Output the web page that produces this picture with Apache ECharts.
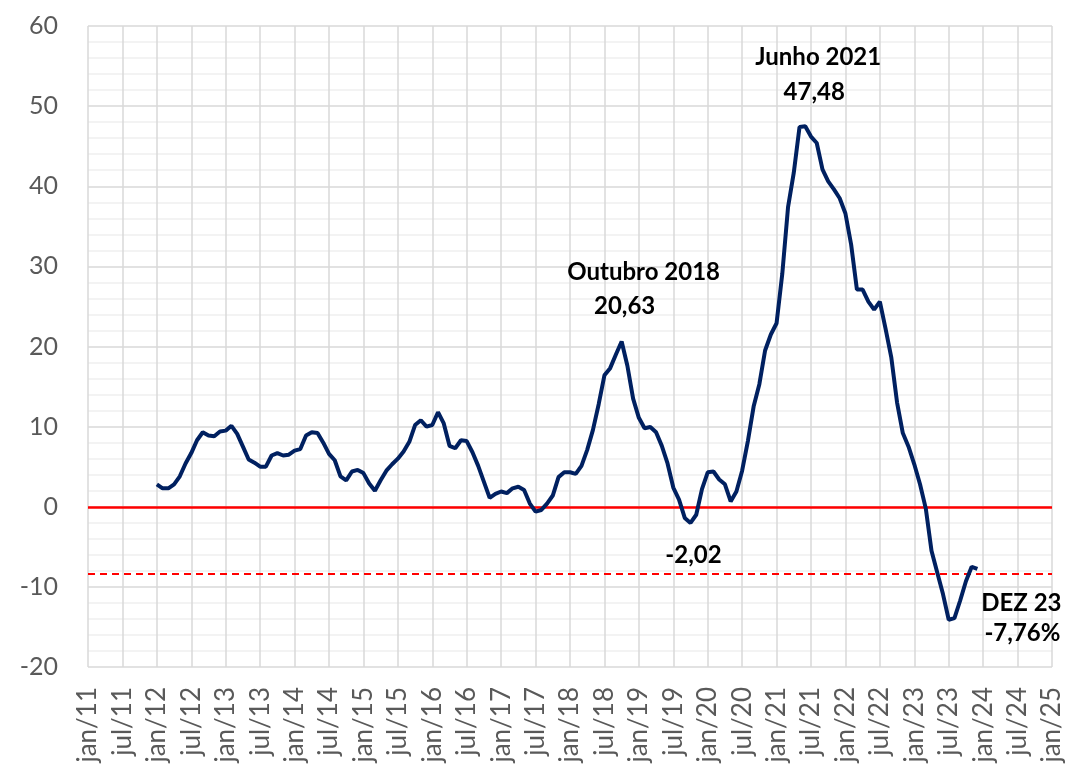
<!DOCTYPE html>
<html>
<head>
<meta charset="utf-8">
<script src="https://cdn.jsdelivr.net/npm/echarts@6/dist/echarts.min.js"></script>
<style>
html,body{margin:0;padding:0;background:#fff;}
#chart{width:1079px;height:773px;}
</style>
</head>
<body>
<div id="chart"></div>
<script>
// Month abbreviations (pt-BR) and axis range
const monthNames = ["jan","fev","mar","abr","mai","jun","jul","ago","set","out","nov","dez"];
const firstYear = 2011;   // axis starts jan/11
const lastYear = 2025;    // axis ends jan/25
// Series starts jan/12 and ends dez/23
const seriesStartYear = 2012;
const values = [
  2.8, 2.3, 2.3, 2.8, 3.8, 5.4, 6.7, 8.3, 9.3, 8.9, 8.8, 9.4,          // 2012
  9.5, 10.1, 9.1, 7.5, 5.9, 5.5, 5.0, 5.0, 6.4, 6.7, 6.4, 6.5,         // 2013
  7.0, 7.2, 8.9, 9.3, 9.2, 8.0, 6.6, 5.8, 3.8, 3.3, 4.4, 4.6,          // 2014
  4.2, 2.9, 2.0, 3.3, 4.5, 5.3, 6.0, 6.9, 8.1, 10.2, 10.8, 10.0,       // 2015
  10.2, 11.8, 10.4, 7.6, 7.3, 8.3, 8.2, 6.8, 5.1, 3.1, 1.1, 1.6,       // 2016
  1.9, 1.7, 2.3, 2.5, 2.1, 0.4, -0.6, -0.4, 0.4, 1.4, 3.7, 4.3,        // 2017
  4.3, 4.1, 5.1, 7.1, 9.6, 12.8, 16.4, 17.3, 19.0, 20.63, 17.6, 13.5,  // 2018
  11.1, 9.8, 9.95, 9.3, 7.6, 5.4, 2.4, 0.9, -1.4, -2.02, -1.0, 2.2,    // 2019
  4.3, 4.4, 3.4, 2.8, 0.66, 1.9, 4.5, 8.2, 12.5, 15.3, 19.5, 21.5,     // 2020
  22.9, 29.1, 37.4, 41.7, 47.4, 47.48, 46.2, 45.4, 42.1, 40.6, 39.6, 38.5, // 2021
  36.6, 32.7, 27.1, 27.1, 25.6, 24.6, 25.6, 22.2, 18.6, 13.0, 9.2, 7.5,   // 2022
  5.3, 2.8, -0.2, -5.5, -8.2, -10.9, -14.1, -13.9, -11.7, -9.3, -7.5, -7.76 // 2023
];
const zeroLine = 0;
const dashedLevel = -8.3;
const yTicks = {min: -20, max: 60, interval: 10};
const annotations = [
  {cat: "jun/21", value: 47.48, text: "Junho 2021", dx: 13, dy: -69},
  {cat: "jun/21", value: 47.48, text: "47,48", dx: 9, dy: -34},
  {cat: "out/18", value: 20.63, text: "Outubro 2018", dx: 22, dy: -69},
  {cat: "out/18", value: 20.63, text: "20,63", dx: 3, dy: -35},
  {cat: "out/19", value: -2.02, text: "-2,02", dx: 3, dy: 32},
  {cat: "dez/23", value: -7.76, text: "DEZ 23", dx: 44, dy: 34},
  {cat: "dez/23", value: -7.76, text: "-7,76%", dx: 45, dy: 64}
];

// Build categories
const categories = [];
for (let y = firstYear; y <= lastYear; y++) {
  for (let m = 0; m < 12; m++) {
    if (y === lastYear && m > 0) break;
    categories.push(monthNames[m] + "/" + String(y).slice(2));
  }
}
const offset = (seriesStartYear - firstYear) * 12;
const seriesData = categories.map((c, i) => {
  const k = i - offset;
  return (k >= 0 && k < values.length) ? values[k] : null;
});

const chart = echarts.init(document.getElementById('chart'), null, {renderer: 'canvas'});
chart.setOption({
  animation: false,
  backgroundColor: '#ffffff',
  grid: {left: 88, right: 27, top: 26, bottom: 106, containLabel: false},
  xAxis: {
    type: 'category',
    data: categories,
    boundaryGap: false,
    axisLine: {show: false},
    axisTick: {show: false},
    axisLabel: {
      interval: 5,
      rotate: 90,
      margin: 20,
      fontFamily: 'Lato',
      fontSize: 26,
      color: '#595959'
    },
    splitLine: {show: true, interval: 5, lineStyle: {color: '#d9d9d9', width: 1.5}}
  },
  yAxis: {
    type: 'value',
    min: yTicks.min,
    max: yTicks.max,
    interval: yTicks.interval,
    axisLine: {show: false},
    axisTick: {show: false},
    axisLabel: {fontFamily: 'Lato', fontSize: 25, color: '#595959', margin: 30},
    splitLine: {show: true, lineStyle: {color: '#d9d9d9', width: 1.5}},
    minorTick: {show: false, splitNumber: 5},
    minorSplitLine: {show: true, lineStyle: {color: '#f0f0f0', width: 1.5}}
  },
  series: [{
    type: 'line',
    data: seriesData,
    showSymbol: false,
    connectNulls: false,
    lineStyle: {color: '#002060', width: 4},
    itemStyle: {color: '#002060'},
    z: 5,
    markLine: {
      silent: true,
      symbol: 'none',
      label: {show: false},
      data: [
        {yAxis: zeroLine, lineStyle: {color: '#ff0000', width: 2.5, type: 'solid'}},
        {yAxis: dashedLevel, lineStyle: {color: '#ff0000', width: 2, type: [7, 5]}}
      ]
    },
    markPoint: {
      silent: true,
      symbol: 'circle',
      symbolSize: 0,
      itemStyle: {color: 'rgba(0,0,0,0)'},
      data: annotations.map(a => ({
        coord: [a.cat, a.value],
        label: {
          show: true,
          formatter: a.text,
          position: 'inside',
          offset: [a.dx, a.dy],
          align: 'center',
          verticalAlign: 'middle',
          fontFamily: 'Lato',
          fontWeight: 'bold',
          fontSize: 24,
          color: '#000000'
        }
      }))
    }
  }]
});
</script>
</body>
</html>
